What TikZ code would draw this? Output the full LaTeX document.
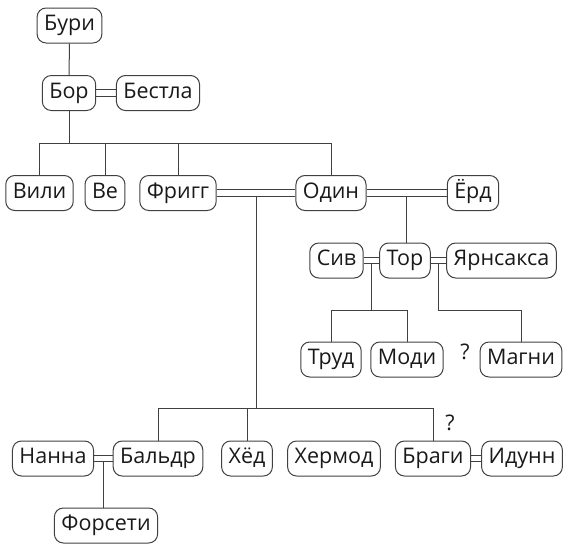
\documentclass[tikz,border=0pt]{standalone}
\usepackage{fontspec}
\setmainfont{Open Sans}
\usetikzlibrary{calc}
\tikzset{
  god/.style={draw, rounded corners=9pt, minimum height=35pt, inner xsep=7pt,
    text height=15pt, text depth=5pt, font=\fontsize{21.5}{25}\selectfont},
  qmark/.style={font=\fontsize{21.5}{25}\selectfont},
}
\newcommand\wedlink[2]{%
  \foreach \s in {-3.2,3.2}
    \draw ([yshift=\s pt]#1.east) -- ([yshift=\s pt]#2.west);}
\begin{document}
\begin{tikzpicture}[x=1pt, y=-1pt, line width=1pt, draw=black!75, text=black!90]
  \useasboundingbox (0,0) rectangle (563,544);
  \node[god] (buri) at (69.5,25.5) {Бури};
  \node[god] (bor) at (69,93) {Бор};
  \node[god] (bestla) at (158,93) {Бестла};
  \node[god] (vili) at (39.5,193) {Вили};
  \node[god] (ve) at (105,193) {Ве};
  \node[god] (frigg) at (178,193) {Фригг};
  \node[god] (odin) at (331,193) {Один};
  \node[god] (jord) at (473,193) {Ёрд};
  \node[god] (siv) at (336.5,260.5) {Сив};
  \node[god] (thor) at (405,260.5) {Тор};
  \node[god] (jarn) at (501.5,260.5) {Ярнсакса};
  \node[god] (trud) at (331,359.5) {Труд};
  \node[god] (modi) at (407,359.5) {Моди};
  \node[god] (magni) at (521,359.5) {Магни};
  \node[qmark] (q1) at (465,352) {?};
  \node[god] (nanna) at (53,458.5) {Нанна};
  \node[god] (baldr) at (158,458.5) {Бальдр};
  \node[god] (hod) at (247,458.5) {Хёд};
  \node[god] (hermod) at (334,458.5) {Хермод};
  \node[god] (bragi) at (433,458.5) {Браги};
  \node[god] (idunn) at (522,458.5) {Идунн};
  \node[qmark] (q2) at (450,423) {?};
  \node[god] (forseti) at (106,525.5) {Форсети};

  \coordinate (bar1) at (0,143);
  \coordinate (bar2) at (0,310);
  \coordinate (bar3) at (0,408);
  \coordinate (fo) at ($(frigg.east)!0.5!(odin.west)+(0,3.2)$);
  \coordinate (oj) at ($(odin.east)!0.5!(jord.west)+(0,3.2)$);
  \coordinate (st) at ($(siv.east)!0.5!(thor.west)+(0,3.2)$);
  \coordinate (tj) at ($(thor.east)!0.5!(jarn.west)+(0,3.2)$);
  \coordinate (nb) at ($(nanna.east)!0.5!(baldr.west)+(0,3.2)$);

  \draw (buri) -- (bor);
  \foreach \c in {vili, ve, frigg, odin}
    \draw (bor.south) -- (bor.south |- bar1) -| (\c.north);
  \foreach \c in {baldr, hod, bragi}
    \draw (fo) -- (fo |- bar3) -| (\c.north);
  \draw (oj) -- (oj |- thor.north);
  \foreach \c in {trud, modi}
    \draw (st) -- (st |- bar2) -| (\c.north);
  \draw (tj) -- (tj |- bar2) -| (magni.north);
  \draw (nb) -- (nb |- forseti.north);

  \wedlink{bor}{bestla}
  \wedlink{frigg}{odin}
  \wedlink{odin}{jord}
  \wedlink{siv}{thor}
  \wedlink{thor}{jarn}
  \wedlink{nanna}{baldr}
  \wedlink{bragi}{idunn}
\end{tikzpicture}
\end{document}
